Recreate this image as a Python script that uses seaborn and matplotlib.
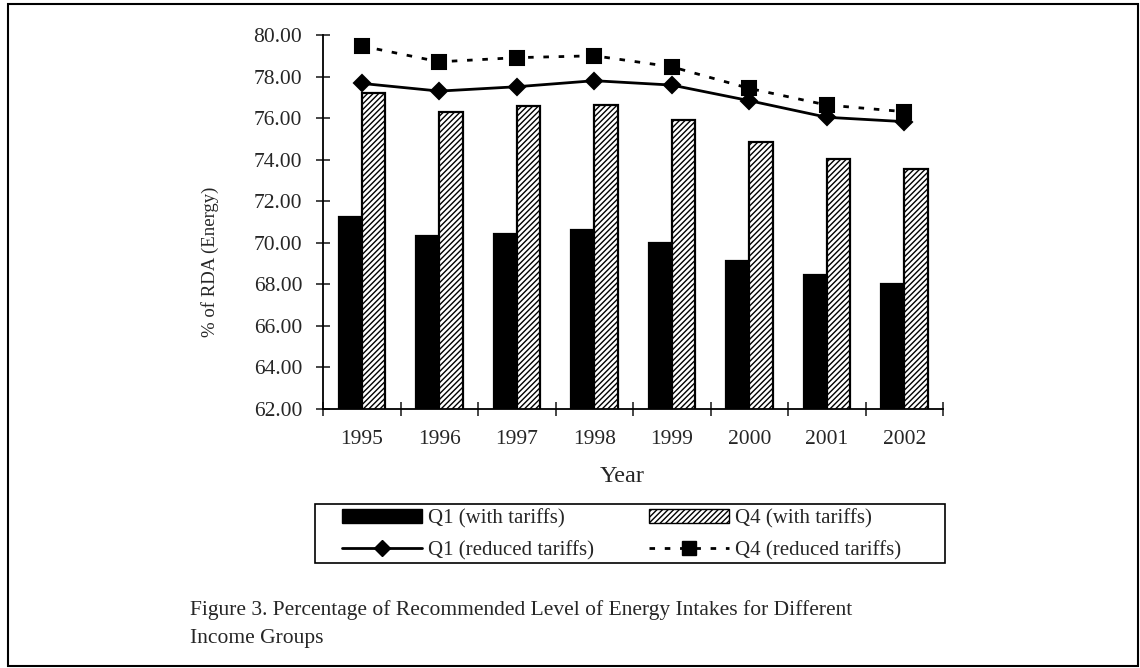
import matplotlib
matplotlib.use("Agg")
import matplotlib.pyplot as plt
from matplotlib.patches import Rectangle, Patch
from matplotlib.lines import Line2D
import seaborn as sns
import pandas as pd

years = ["1995", "1996", "1997", "1998", "1999", "2000", "2001", "2002"]
q1_with = [71.25, 70.34, 70.44, 70.60, 69.97, 69.14, 68.43, 68.02]
q4_with = [77.22, 76.29, 76.57, 76.64, 75.91, 74.86, 74.03, 73.56]
q1_reduced = [77.67, 77.30, 77.51, 77.80, 77.59, 76.84, 76.04, 75.83]
q4_reduced = [79.47, 78.71, 78.91, 79.00, 78.47, 77.43, 76.63, 76.31]
series_names = ["Q1 (with tariffs)", "Q4 (with tariffs)",
                "Q1 (reduced tariffs)", "Q4 (reduced tariffs)"]
y_ticks = [62, 64, 66, 68, 70, 72, 74, 76, 78, 80]

df_bars = pd.DataFrame({
    "Year": years * 2,
    "Value": q1_with + q4_with,
    "Series": [series_names[0]] * len(years) + [series_names[1]] * len(years),
})
df_lines = pd.DataFrame({
    "Year": years * 2,
    "Value": q1_reduced + q4_reduced,
    "Series": [series_names[2]] * len(years) + [series_names[3]] * len(years),
})

sns.set_style("ticks")
plt.rcParams["font.family"] = ["Liberation Serif", "DejaVu Serif"]
plt.rcParams["hatch.linewidth"] = 1.0
plt.rcParams["hatch.color"] = "black"

fig = plt.figure(figsize=(11.4, 6.68), dpi=100)
W, H = 1140, 668
ax = fig.add_axes([323 / W, 1 - 409 / H, (943 - 323) / W, (409 - 35) / H])

sns.barplot(data=df_bars, x="Year", y="Value", hue="Series", order=years,
            hue_order=series_names[:2], palette=["black", "white"],
            width=0.6, edgecolor="black", linewidth=1.6, saturation=1,
            legend=False, ax=ax)
n = len(years)
for p in ax.patches[n:2 * n]:
    p.set_hatch("//////")

dash = (0, (2, 3.5))
sns.pointplot(data=df_lines, x="Year", y="Value", hue="Series", order=years,
              hue_order=series_names[2:], palette=["black", "black"],
              markers=["D", "s"], linestyles=["-", dash], errorbar=None,
              legend=False, ax=ax, markersize=8.5, linewidth=2)
for ln in ax.lines:
    if ln.get_marker() == "s":
        ln.set_markersize(10.5)

ax.set_ylim(62, 80)
ax.set_xlim(-0.5, n - 0.5)
ax.set_yticks(y_ticks)
ax.set_yticklabels([f"{v:.2f}" for v in y_ticks], fontsize=15.5)
ax.set_xticks(range(n))
ax.set_xticklabels(years, fontsize=15.5)
ax.set_xticks([i - 0.5 for i in range(n + 1)], minor=True)
ax.tick_params(axis="x", which="major", length=0, pad=15)
ax.tick_params(axis="x", which="minor", direction="inout", length=10, width=1.2)
ax.tick_params(axis="y", direction="inout", length=10, width=1.2, pad=10)
for s in ["top", "right"]:
    ax.spines[s].set_visible(False)
for s in ["left", "bottom"]:
    ax.spines[s].set_linewidth(1.3)
    ax.spines[s].set_color("black")

ax.set_xlabel("Year", fontsize=17.5)
ax.set_ylabel("% of RDA (Energy)", fontsize=13.5)
ax.xaxis.set_label_coords((622 - 323) / 620, -(476 - 409) / 374)
ax.yaxis.set_label_coords((210 - 323) / 620, (409 - 262) / 374)
ax.xaxis.label.set_va("center")
ax.yaxis.label.set_va("center")

handles = [
    Patch(facecolor="black", edgecolor="black", linewidth=1.0),
    Line2D([], [], color="black", linewidth=2, marker="D", markersize=8.5),
    Patch(facecolor="white", edgecolor="black", hatch="//////", linewidth=1.0),
    Line2D([], [], color="black", linewidth=2, linestyle=dash, marker="s", markersize=10.5),
]
labels = [series_names[0], series_names[2], series_names[1], series_names[3]]
leg = fig.legend(handles, labels, ncol=2, loc="upper left",
                 bbox_to_anchor=(342 / W, 1 - 509 / H),
                 fontsize=15, frameon=False, handlelength=3.85,
                 handleheight=0.6, handletextpad=0.3, labelspacing=0.6,
                 borderpad=0, borderaxespad=0, columnspacing=2.6)

fig.patches.append(Rectangle((315 / W, 1 - 563 / H), (945 - 315) / W, (563 - 504) / H,
                             transform=fig.transFigure, fill=False,
                             edgecolor="black", linewidth=1.2))

fig.text(190 / W, 1 - 624 / H,
         "Figure 3. Percentage of Recommended Level of Energy Intakes for Different\nIncome Groups",
         fontsize=15.5, ha="left", va="center", linespacing=1.6)

fig.patches.append(Rectangle((8 / W, 1 - 666 / H), (1138 - 8) / W, (666 - 4) / H,
                             transform=fig.transFigure, fill=False,
                             edgecolor="black", linewidth=1.5))

fig.savefig("out.png", dpi=100)
